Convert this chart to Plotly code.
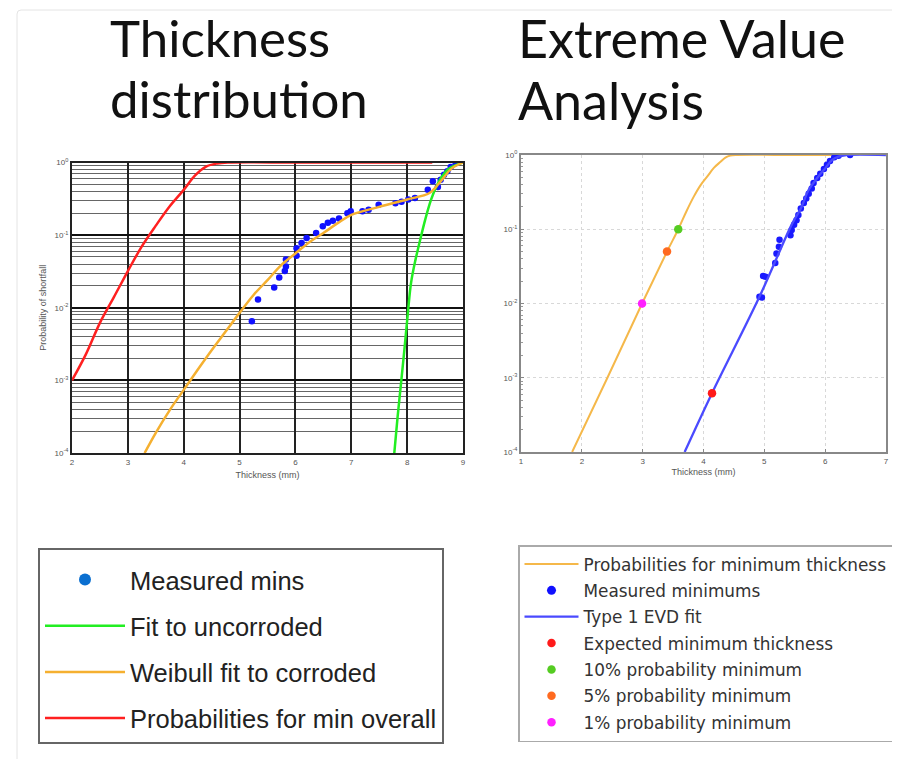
import plotly.graph_objects as go

# ---------------- Left panel data (Thickness distribution) ----------------
red_x = [2.0, 2.25, 2.5, 2.75, 3.0, 3.25, 3.5, 3.75, 4.0, 4.2, 4.4, 4.6, 4.8, 6.0, 7.0, 8.45]
red_y = [1e-3, 2.3e-3, 6.2e-3, 1.4e-2, 3.2e-2, 7.0e-2, 1.35e-1, 2.5e-1, 4.2e-1, 6.6e-1, 8.8e-1, 0.97, 1.0, 1.0, 1.0, 1.0]

orange_x = [3.3, 3.5, 3.75, 4.0, 4.25, 4.5, 4.75, 5.0, 5.25, 5.5, 5.75, 6.0, 6.25, 6.5, 6.75, 7.0, 7.5, 8.0, 8.4, 8.6, 8.8, 9.0]
orange_y = [1e-4, 1.9e-4, 3.9e-4, 7.4e-4, 1.4e-3, 2.6e-3, 4.7e-3, 8.5e-3, 1.5e-2, 2.4e-2, 3.9e-2, 5.6e-2, 8.0e-2, 1.07e-1, 1.45e-1, 1.9e-1, 2.45e-1, 3.1e-1, 3.8e-1, 5.5e-1, 8.3e-1, 1.0]

green_x = [7.77, 7.83, 7.89, 7.95, 8.01, 8.07, 8.15, 8.22, 8.32, 8.43, 8.53, 8.63, 8.73, 8.83, 9.0]
green_y = [1e-4, 3.2e-4, 9e-4, 2.6e-3, 8e-3, 2.2e-2, 4.6e-2, 7.8e-2, 1.6e-1, 3.1e-1, 4.8e-1, 6.5e-1, 8.0e-1, 8.9e-1, 1.0]

meas_x = [5.22, 5.33, 5.62, 5.71, 5.81, 5.83, 5.83, 6.02, 6.02, 6.11, 6.20, 6.37, 6.49, 6.58,
          6.67, 6.78, 6.93, 6.99, 7.20, 7.31, 7.49, 7.79, 7.90, 8.02, 8.14, 8.37, 8.46, 8.55,
          8.60, 8.66, 8.72, 8.78, 8.87]
meas_y = [6.5e-3, 1.3e-2, 1.9e-2, 2.6e-2, 3.2e-2, 3.7e-2, 4.6e-2, 5.2e-2, 6.6e-2, 7.8e-2, 9.1e-2,
          1.07e-1, 1.32e-1, 1.48e-1, 1.58e-1, 1.70e-1, 2.0e-1, 2.14e-1, 2.14e-1, 2.24e-1, 2.63e-1,
          2.75e-1, 2.88e-1, 3.1e-1, 3.24e-1, 4.2e-1, 5.5e-1, 4.6e-1, 5.8e-1, 6.8e-1, 7.6e-1,
          8.7e-1, 9.8e-1]

# ---------------- Right panel data (Extreme Value Analysis) ----------------
pmin_x = [1.84, 2.42, 2.99, 3.40, 3.585, 3.72, 3.84, 3.95, 4.06, 4.17, 4.28, 4.36, 4.44, 4.55, 5.5, 6.2]
pmin_y = [1e-4, 1e-3, 1e-2, 5e-2, 1e-1, 1.75e-1, 2.75e-1, 3.9e-1, 5.1e-1, 6.7e-1, 8.1e-1, 9.2e-1, 0.98, 1.0, 1.0, 1.0]

evd_x = [3.69, 4.14, 4.92, 5.46, 5.60, 5.73, 5.87, 6.00, 6.11, 6.22, 6.35, 7.0]
evd_y = [1e-4, 6.2e-4, 1.23e-2, 1.2e-1, 1.9e-1, 3.4e-1, 4.9e-1, 6.6e-1, 8.5e-1, 0.95, 1.0, 1.0]

evdm_x = [4.92, 4.96, 4.98, 5.02, 5.18, 5.20, 5.24, 5.25, 5.43, 5.45, 5.49, 5.53, 5.56, 5.60,
          5.65, 5.69, 5.73, 5.78, 5.81, 5.87, 5.92, 5.98, 6.03, 6.08, 6.15, 6.22, 6.41]
evdm_y = [1.23e-2, 1.2e-2, 2.35e-2, 2.3e-2, 3.5e-2, 4.7e-2, 5.8e-2, 7.2e-2, 8.3e-2, 9.8e-2,
          1.15e-1, 1.32e-1, 1.55e-1, 1.9e-1, 2.25e-1, 2.6e-1, 3.0e-1, 3.55e-1, 4.2e-1, 4.9e-1,
          5.6e-1, 6.5e-1, 7.4e-1, 8.3e-1, 9.3e-1, 0.98, 1.0]

exp_min = ([4.14], [6.2e-4])
p10 = ([3.585], [0.1])
p05 = ([3.40], [0.05])
p01 = ([2.99], [0.01])

LEFT_XT = [2, 3, 4, 5, 6, 7, 8, 9]
RIGHT_XT = [1, 2, 3, 4, 5, 6, 7]
Y_TV = [1e-4, 1e-3, 1e-2, 1e-1, 1]
Y_TT = ["10<sup>-4</sup>", "10<sup>-3</sup>", "10<sup>-2</sup>", "10<sup>-1</sup>", "10<sup>0</sup>"]

# figure is sized so that, with the page's 8 px body margin, it fills the 900x767 window
W, H, OFF = 884, 751, 8
def fx(px):
    return (px - OFF) / W
def fy(py):
    return 1 - (py - OFF) / H

fig = go.Figure()

# Left traces
fig.add_trace(go.Scatter(x=meas_x, y=meas_y, mode="markers", name="Measured mins",
                         marker=dict(color="#1010ff", size=6.5), legend="legend",
                         legendgroup="a", xaxis="x", yaxis="y", showlegend=False))
fig.add_trace(go.Scatter(x=[None], y=[None], mode="markers", name="Measured mins",
                         marker=dict(color="#0b6fd0", size=12), legend="legend",
                         legendgroup="a", xaxis="x", yaxis="y"))
fig.add_trace(go.Scatter(x=green_x, y=green_y, mode="lines", name="Fit to uncorroded",
                         line=dict(color="#22ee22", width=2.5, shape="spline"), legend="legend",
                         legendgroup="b", xaxis="x", yaxis="y"))
fig.add_trace(go.Scatter(x=orange_x, y=orange_y, mode="lines", name="Weibull fit to corroded",
                         line=dict(color="#f5b030", width=2.5, shape="spline"), legend="legend",
                         legendgroup="c", xaxis="x", yaxis="y"))
fig.add_trace(go.Scatter(x=red_x, y=red_y, mode="lines", name="Probabilities for min overall",
                         line=dict(color="#ff2020", width=2.5, shape="spline"), legend="legend",
                         legendgroup="d", xaxis="x", yaxis="y"))

# Right traces
fig.add_trace(go.Scatter(x=pmin_x, y=pmin_y, mode="lines", name="Probabilities for minimum thickness",
                         line=dict(color="#f5b84a", width=2, shape="spline"), legend="legend2",
                         xaxis="x2", yaxis="y2", legendgroup="r1"))
fig.add_trace(go.Scatter(x=evdm_x, y=evdm_y, mode="markers", name="Measured minimums",
                         marker=dict(color="#1a1aff", size=6.5), legend="legend2",
                         xaxis="x2", yaxis="y2", showlegend=False, legendgroup="r2"))
fig.add_trace(go.Scatter(x=[None], y=[None], mode="markers", name="Measured minimums",
                         marker=dict(color="#1010ff", size=9), legend="legend2",
                         xaxis="x2", yaxis="y2", legendgroup="r2"))
fig.add_trace(go.Scatter(x=evd_x, y=evd_y, mode="lines", name="Type 1 EVD fit",
                         line=dict(color="#4a4aff", width=2.3, shape="spline"), legend="legend2",
                         xaxis="x2", yaxis="y2", legendgroup="r3"))
fig.add_trace(go.Scatter(x=exp_min[0], y=exp_min[1], mode="markers", name="Expected minimum thickness",
                         marker=dict(color="#ff1a1a", size=8.5), legend="legend2",
                         xaxis="x2", yaxis="y2", legendgroup="r4"))
fig.add_trace(go.Scatter(x=p10[0], y=p10[1], mode="markers", name="10% probability minimum",
                         marker=dict(color="#55cc22", size=8.5), legend="legend2",
                         xaxis="x2", yaxis="y2", legendgroup="r5"))
fig.add_trace(go.Scatter(x=p05[0], y=p05[1], mode="markers", name="5% probability minimum",
                         marker=dict(color="#ff6a20", size=8.5), legend="legend2",
                         xaxis="x2", yaxis="y2", legendgroup="r6"))
fig.add_trace(go.Scatter(x=p01[0], y=p01[1], mode="markers", name="1% probability minimum",
                         marker=dict(color="#ff20ff", size=8.5), legend="legend2",
                         xaxis="x2", yaxis="y2", legendgroup="r7"))

tickfont = dict(family="Liberation Sans", size=8, color="#555")
title_font = dict(family="Lato", color="#111")

# faint card outline around the whole picture (decoration)
card_path = (f"M {fx(17)},0 L {fx(17)},{fy(14)} Q {fx(17)},{fy(10)} {fx(21)},{fy(10)} "
             f"L 1,{fy(10)}")

fig.update_layout(
    width=W, height=H,
    margin=dict(l=0, r=0, t=0, b=0, autoexpand=False),
    paper_bgcolor="white", plot_bgcolor="white",
    font=dict(family="Liberation Sans"),
    showlegend=True,
    xaxis=dict(domain=[fx(72), fx(463)], range=[2, 9], tickvals=LEFT_XT, automargin=False,
               showgrid=True, gridcolor="#222", gridwidth=1.8,
               showline=True, linecolor="#222", linewidth=2, mirror=True,
               ticks="", tickfont=tickfont, zeroline=False,
               title=dict(text="Thickness (mm)", font=dict(size=9, color="#555"), standoff=6)),
    yaxis=dict(domain=[fy(453), fy(162.5)], type="log", range=[-4, 0], automargin=False,
               tickvals=Y_TV, ticktext=Y_TT, tickfont=tickfont,
               showgrid=True, gridcolor="#111", gridwidth=2,
               minor=dict(dtick="D1", showgrid=True, gridcolor="rgba(0,0,0,0.6)",
                          gridwidth=1.3, ticks=""),
               showline=True, linecolor="#222", linewidth=2, mirror=True, ticks="",
               zeroline=False,
               title=dict(text="Probability of shortfall", font=dict(size=9, color="#555"), standoff=6)),
    xaxis2=dict(domain=[fx(521), fx(886)], range=[0.999, 7.001], tickvals=RIGHT_XT,
                anchor="y2", automargin=False,
                showgrid=True, gridcolor="#d8d8d8", griddash="dot", gridwidth=1,
                showline=True, linecolor="#888", linewidth=2, mirror=True,
                ticks="inside", ticklen=3, tickcolor="#888", tickfont=tickfont, zeroline=False,
                title=dict(text="Thickness (mm)", font=dict(size=9, color="#555"), standoff=4)),
    yaxis2=dict(domain=[fy(452), fy(155)], type="log", range=[-4, 0], anchor="x2",
                automargin=False, tickvals=Y_TV, ticktext=Y_TT, tickfont=tickfont,
                showgrid=True, gridcolor="#d8d8d8", griddash="dot", gridwidth=1,
                minor=dict(dtick="D1", ticks="inside", ticklen=2, tickcolor="#999", showgrid=False),
                showline=True, linecolor="#888", linewidth=2, mirror=True,
                ticks="inside", ticklen=3, tickcolor="#888", zeroline=False),
    legend=dict(x=fx(38), y=fy(548), xanchor="left", yanchor="top",
                bordercolor="#666", borderwidth=2, bgcolor="white",
                font=dict(family="Liberation Sans", size=25.5, color="#222"),
                title=dict(text=" ", font=dict(size=5)),
                traceorder="grouped", tracegroupgap=10, itemwidth=80),
    legend2=dict(x=fx(518), y=fy(545), xanchor="left", yanchor="top",
                 bordercolor="#aaa", borderwidth=1.5, bgcolor="white",
                 font=dict(family="DejaVu Sans", size=16.9, color="#333"),
                 traceorder="grouped", tracegroupgap=1.4, itemwidth=54),
    shapes=[dict(type="path", path=card_path, xref="paper", yref="paper",
                 line=dict(color="#e4e4e4", width=1), layer="below")],
    annotations=[
        dict(text="Thickness", x=fx(108), y=fy(5), xref="paper", yref="paper",
             xanchor="left", yanchor="top", showarrow=False, font=dict(size=51, **title_font)),
        dict(text="distribution", x=fx(108), y=fy(66), xref="paper", yref="paper",
             xanchor="left", yanchor="top", showarrow=False, font=dict(size=51, **title_font)),
        dict(text="Extreme Value", x=fx(516), y=fy(5), xref="paper", yref="paper",
             xanchor="left", yanchor="top", showarrow=False, font=dict(size=52, **title_font)),
        dict(text="Analysis", x=fx(516), y=fy(67), xref="paper", yref="paper",
             xanchor="left", yanchor="top", showarrow=False, font=dict(size=52, **title_font)),
    ],
)

fig.write_html("out.html")
